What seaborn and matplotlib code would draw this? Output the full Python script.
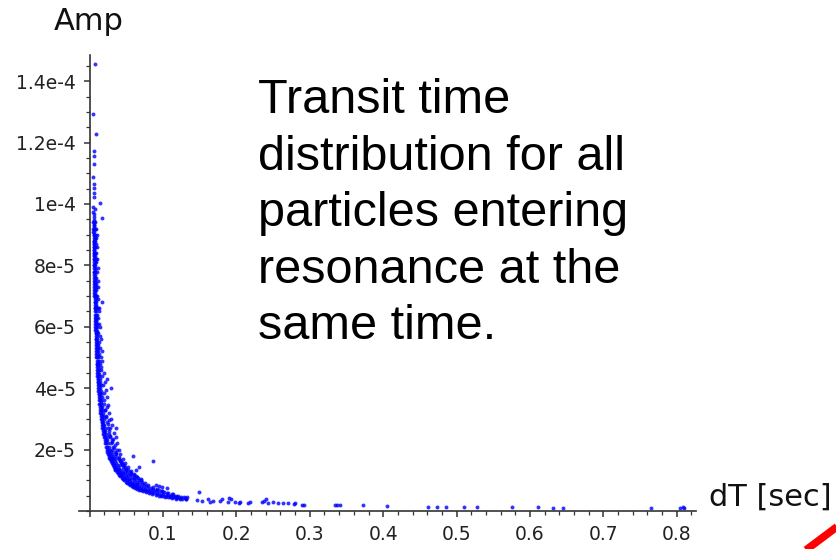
import matplotlib
matplotlib.use("Agg")
import matplotlib.pyplot as plt
import pandas as pd
import seaborn as sns
from matplotlib.lines import Line2D
from matplotlib.ticker import FixedLocator, MultipleLocator

# ---------------------------------------------------------------------------
# Transit time (dT, seconds) vs. amplitude of particles entering resonance.
# Amplitudes below are written in units of 1e-5.
# ---------------------------------------------------------------------------

# sparse points at the top of the column
top_points = [
    (0.0074, 14.56), (0.0050, 12.93), (0.0087, 12.28), (0.0064, 11.74),
    (0.0060, 11.56), (0.0058, 11.30), (0.0050, 10.89), (0.0059, 10.64),
    (0.0062, 10.52), (0.0055, 10.36), (0.0062, 10.24), (0.0142, 10.04),
    (0.0048, 9.90), (0.0068, 9.85), (0.0052, 9.75), (0.0060, 9.67),
    (0.0065, 9.59), (0.0173, 9.55), (0.0055, 9.48),
]

# dense, nearly vertical column: (amplitude, [dT values])
column_rows = [
    (9.4, [0.0050, 0.0061, 0.0074]), (9.3, [0.0055, 0.0066]),
    (9.2, [0.0052, 0.0059, 0.0071, 0.0086]), (9.1, [0.0053, 0.0064]),
    (9.0, [0.0054, 0.0060, 0.0077]), (8.9, [0.0055, 0.0068, 0.0083]),
    (8.8, [0.0054, 0.0062, 0.0072]), (8.7, [0.0056, 0.0065, 0.0090]),
    (8.6, [0.0055, 0.0060, 0.0070, 0.0079]), (8.5, [0.0057, 0.0066]),
    (8.4, [0.0056, 0.0063, 0.0075, 0.0093]), (8.3, [0.0058, 0.0069]),
    (8.2, [0.0057, 0.0064, 0.0081]), (8.1, [0.0059, 0.0070, 0.0086]),
    (8.0, [0.0059, 0.0066, 0.0076]), (7.9, [0.0060, 0.0072]),
    (7.8, [0.0061, 0.0067, 0.0080, 0.0098]), (7.7, [0.0062, 0.0073]),
    (7.6, [0.0062, 0.0069, 0.0084]), (7.5, [0.0063, 0.0075, 0.0118]),
    (7.4, [0.0064, 0.0070, 0.0081]), (7.3, [0.0065, 0.0077, 0.0092]),
    (7.2, [0.0066, 0.0072, 0.0086]), (7.1, [0.0067, 0.0079]),
    (7.0, [0.0067, 0.0074, 0.0090, 0.0104]), (6.9, [0.0069, 0.0081]),
    (6.8, [0.0069, 0.0076, 0.0094, 0.0165]), (6.7, [0.0071, 0.0083]),
    (6.6, [0.0072, 0.0078, 0.0089, 0.0108]), (6.5, [0.0073, 0.0085]),
    (6.4, [0.0074, 0.0081, 0.0097]), (6.3, [0.0075, 0.0087, 0.0112]),
    (6.2, [0.0076, 0.0083, 0.0093]), (6.1, [0.0078, 0.0090, 0.0104]),
    (6.0, [0.0079, 0.0086, 0.0098]), (5.9, [0.0080, 0.0092]),
    (5.8, [0.0082, 0.0089, 0.0101, 0.0120]), (5.7, [0.0083, 0.0095]),
    (5.6, [0.0084, 0.0092, 0.0107]), (5.5, [0.0086, 0.0098, 0.0125]),
    (5.4, [0.0087, 0.0095, 0.0110]), (5.3, [0.0089, 0.0101, 0.0117]),
    (5.2, [0.0091, 0.0098, 0.0112]), (5.1, [0.0093, 0.0104, 0.0133]),
    (5.0, [0.0094, 0.0102, 0.0118]), (4.9, [0.0096, 0.0108, 0.0124]),
    (4.8, [0.0098, 0.0106, 0.0120, 0.0142]), (4.7, [0.0100, 0.0112]),
    (4.6, [0.0102, 0.0110, 0.0126, 0.0150]), (4.5, [0.0105, 0.0116]),
    (4.4, [0.0107, 0.0115, 0.0132]), (4.3, [0.0110, 0.0121, 0.0145, 0.0231]),
    (4.2, [0.0112, 0.0120, 0.0138]), (4.1, [0.0115, 0.0127, 0.0152]),
    (4.0, [0.0118, 0.0126, 0.0144, 0.0287]), (3.9, [0.0121, 0.0132, 0.0160]),
    (3.8, [0.0124, 0.0135, 0.0150]), (3.7, [0.0127, 0.0140, 0.0168]),
    (3.6, [0.0131, 0.0144, 0.0158]),
]

# the bend of the distribution: (amplitude, [dT values])
knee_rows = [
    (3.5, [0.0134, 0.0146, 0.0162, 0.0190]), (3.4, [0.0139, 0.0150, 0.0172]),
    (3.3, [0.0143, 0.0155, 0.0168, 0.0205]), (3.2, [0.0148, 0.0160, 0.0180]),
    (3.1, [0.0152, 0.0165, 0.0178, 0.0220]), (3.0, [0.0157, 0.0170, 0.0192]),
    (2.9, [0.0163, 0.0175, 0.0188, 0.0235]), (2.8, [0.0168, 0.0182, 0.0200]),
    (2.7, [0.0174, 0.0186, 0.0205, 0.0250, 0.0356]),
    (2.6, [0.0181, 0.0195, 0.0215]),
    (2.5, [0.0188, 0.0200, 0.0222, 0.0265]),
    (2.4, [0.0196, 0.0210, 0.0232, 0.0280]),
    (2.3, [0.0205, 0.0218, 0.0240, 0.0300]),
    (2.2, [0.0214, 0.0228, 0.0252, 0.0290]),
    (2.1, [0.0224, 0.0240, 0.0262, 0.0320]),
    (2.0, [0.0235, 0.0250, 0.0275, 0.0305]),
    (1.93, [0.0244, 0.0262, 0.0290, 0.0340]),
    (1.86, [0.0253, 0.0270, 0.0300, 0.0360]),
    (1.80, [0.0261, 0.0280, 0.0310, 0.0350, 0.0587]),
    (1.74, [0.0270, 0.0290, 0.0322, 0.0380]),
    (1.68, [0.0280, 0.0300, 0.0335, 0.0400]),
    (1.62, [0.0290, 0.0312, 0.0348, 0.0420, 0.0860]),
    (1.56, [0.0301, 0.0325, 0.0362, 0.0440]),
    (1.50, [0.0313, 0.0337, 0.0375, 0.0410, 0.0465]),
    (1.44, [0.0326, 0.0350, 0.0390, 0.0480, 0.0680]),
    (1.38, [0.0341, 0.0366, 0.0405, 0.0450, 0.0500]),
    (1.33, [0.0353, 0.0380, 0.0420, 0.0520, 0.0630]),
    (1.28, [0.0367, 0.0395, 0.0438, 0.0480, 0.0545]),
    (1.23, [0.0382, 0.0410, 0.0455, 0.0510, 0.0570]),
    (1.18, [0.0398, 0.0428, 0.0472, 0.0530, 0.0600]),
    (1.13, [0.0416, 0.0447, 0.0492, 0.0550, 0.0630]),
    (1.08, [0.0435, 0.0468, 0.0515, 0.0580, 0.0660]),
    (1.04, [0.0452, 0.0485, 0.0535, 0.0600]),
    (1.00, [0.0470, 0.0505, 0.0555, 0.0625, 0.0700]),
    (0.96, [0.0490, 0.0525, 0.0578, 0.0650]),
    (0.92, [0.0511, 0.0548, 0.0600, 0.0680, 0.0760]),
    (0.88, [0.0534, 0.0572, 0.0628, 0.0710]),
    (0.85, [0.0553, 0.0592, 0.0650, 0.0740, 0.0900]),
    (0.82, [0.0573, 0.0614, 0.0675, 0.0770, 0.0950]),
    (0.79, [0.0595, 0.0637, 0.0700, 0.0800, 0.0980]),
    (0.76, [0.0618, 0.0662, 0.0728, 0.0830, 0.1060]),
    (0.73, [0.0644, 0.0690, 0.0758, 0.0860]),
    (0.70, [0.0671, 0.0718, 0.0790, 0.0900]),
    (0.67, [0.0701, 0.0750, 0.0825, 0.0940]),
    (0.64, [0.0734, 0.0786, 0.0865, 0.0980]),
    (0.61, [0.0770, 0.0825, 0.0905, 0.1020]),
    (0.58, [0.0810, 0.0868, 0.0950, 0.1070]),
    (0.55, [0.0855, 0.0915, 0.1000, 0.1120]),
    (0.52, [0.0904, 0.0968, 0.1060]),
    (0.50, [0.0940, 0.1005, 0.1100, 0.1180]),
    (0.48, [0.0979, 0.1045, 0.1140]),
    (0.46, [0.1022, 0.1090, 0.1190, 0.1330]),
    (0.44, [0.1068, 0.1140, 0.1240]),
    (0.42, [0.1119, 0.1195, 0.1300]),
    (0.40, [0.1175, 0.1255]),
    (0.38, [0.1237, 0.1320]),
]

# scattered points on the outer side of the band, plus fill between rows
spread_points = [
    (0.0095, 9.00), (0.0100, 8.60), (0.0105, 8.20), (0.0110, 7.90),
    (0.0112, 7.30), (0.0120, 6.90), (0.0125, 6.50), (0.0130, 6.10),
    (0.0138, 5.70), (0.0145, 5.30), (0.0152, 5.00), (0.0160, 4.70),
    (0.0170, 4.40), (0.0180, 4.10), (0.0190, 3.85), (0.0200, 3.60),
    (0.0215, 3.30), (0.0230, 3.05), (0.0245, 2.85), (0.0265, 2.60),
    (0.0285, 2.45), (0.0310, 2.25), (0.0330, 2.05), (0.0365, 1.90),
    (0.0395, 1.75), (0.0430, 1.60), (0.0460, 1.45), (0.0500, 1.35),
    (0.0560, 1.20), (0.0610, 1.10), (0.0680, 1.00), (0.0720, 0.93),
    (0.0790, 0.86), (0.0860, 0.78), (0.0920, 0.72), (0.0990, 0.66),
    (0.1060, 0.60), (0.1130, 0.54), (0.1200, 0.50), (0.1280, 0.46),
    (0.0058, 9.25), (0.0063, 8.75), (0.0067, 8.35), (0.0071, 7.85),
    (0.0075, 7.45), (0.0080, 7.05), (0.0084, 6.65), (0.0090, 6.25),
    (0.0095, 5.85), (0.0102, 5.45), (0.0108, 5.05), (0.0115, 4.75),
    (0.0122, 4.45), (0.0130, 4.15), (0.0139, 3.85), (0.0150, 3.55),
    (0.0130, 6.60), (0.0140, 6.00), (0.0150, 5.60), (0.0165, 5.20),
    (0.0175, 4.90), (0.0195, 4.50), (0.0210, 4.20), (0.0225, 3.95),
    (0.0240, 3.70), (0.0255, 3.45), (0.0235, 3.40), (0.0270, 3.20),
    (0.0290, 3.00), (0.0260, 2.95), (0.0310, 2.80), (0.0285, 2.70),
    (0.0330, 2.55), (0.0355, 2.40), (0.0320, 2.35), (0.0380, 2.20),
    (0.0350, 2.15), (0.0400, 2.00), (0.0375, 1.98), (0.0420, 1.85),
    (0.0450, 1.70), (0.0410, 1.66), (0.0480, 1.55), (0.0440, 1.52),
    (0.0520, 1.42), (0.0560, 1.30), (0.0600, 1.22), (0.0650, 1.12),
    (0.0700, 1.05),
]

# long tail along the dT axis
tail_points = [
    (0.1095, 0.49), (0.116, 0.45), (0.123, 0.41), (0.132, 0.38),
    (0.149, 0.62), (0.146, 0.36), (0.153, 0.34), (0.162, 0.38),
    (0.164, 0.30), (0.168, 0.33), (0.178, 0.34), (0.180, 0.39),
    (0.190, 0.43), (0.192, 0.39), (0.189, 0.29), (0.198, 0.28),
    (0.203, 0.25), (0.205, 0.30), (0.216, 0.27), (0.218, 0.30),
    (0.235, 0.30), (0.237, 0.31), (0.241, 0.38), (0.243, 0.27),
    (0.250, 0.28), (0.257, 0.26), (0.264, 0.27), (0.270, 0.25),
    (0.278, 0.23), (0.280, 0.25), (0.290, 0.20), (0.292, 0.21),
    (0.334, 0.20), (0.337, 0.19), (0.341, 0.18), (0.373, 0.18),
    (0.405, 0.16), (0.461, 0.14), (0.473, 0.14), (0.486, 0.13),
    (0.510, 0.13), (0.528, 0.12), (0.576, 0.12), (0.611, 0.12),
    (0.632, 0.11), (0.645, 0.11), (0.765, 0.10), (0.805, 0.10),
    (0.808, 0.12), (0.810, 0.09),
]

dt_ticks = [0.1, 0.2, 0.3, 0.4, 0.5, 0.6, 0.7, 0.8]
dt_tick_labels = ["0.1", "0.2", "0.3", "0.4", "0.5", "0.6", "0.7", "0.8"]
amp_ticks = [2e-5, 4e-5, 6e-5, 8e-5, 1e-4, 1.2e-4, 1.4e-4]
amp_tick_labels = ["2e-5", "4e-5", "6e-5", "8e-5", "1e-4", "1.2e-4", "1.4e-4"]

note_text = ("Transit time\ndistribution for all\nparticles entering\n"
             "resonance at the\nsame time.")

# ---------------------------------------------------------------------------
dt_vals, amp_vals = [], []
for d, a in top_points + spread_points + tail_points:
    dt_vals.append(d)
    amp_vals.append(a * 1e-5)
for a, ds in column_rows + knee_rows:
    for d in ds:
        dt_vals.append(d)
        amp_vals.append(a * 1e-5)
df = pd.DataFrame({"dT": dt_vals, "Amp": amp_vals})

sns.set_theme(style="white")
plt.rcParams["font.family"] = ["DejaVu Sans"]

fig = plt.figure(figsize=(8.37, 5.49), dpi=100)
ax = fig.add_axes([0.09474, 0.06922, 0.73668, 0.83042])

sns.scatterplot(data=df, x="dT", y="Amp", ax=ax, s=8, color="#0000ff",
                linewidth=0, alpha=0.8, legend=False)

ax.set_xlim(-0.014, 0.826)
ax.set_ylim(0, 1.485e-4)
ax.set_xlabel("")
ax.set_ylabel("")

axis_color = "#333333"
for side in ("top", "right"):
    ax.spines[side].set_visible(False)
for side in ("left", "bottom"):
    ax.spines[side].set_position(("data", 0))
    ax.spines[side].set_color(axis_color)
    ax.spines[side].set_linewidth(1.2)

ax.xaxis.set_major_locator(FixedLocator([0.0] + dt_ticks))
ax.set_xticklabels([""] + dt_tick_labels)
ax.xaxis.set_minor_locator(MultipleLocator(0.02))
ax.yaxis.set_major_locator(FixedLocator(amp_ticks))
ax.set_yticklabels(amp_tick_labels)
ax.yaxis.set_minor_locator(MultipleLocator(5e-6))

ax.tick_params(which="both", direction="out", color=axis_color,
               labelcolor="#222222", bottom=True, left=True)
ax.tick_params(which="major", length=4.5, width=1.1, labelsize=13.5)
ax.tick_params(which="minor", length=2.6, width=0.9)
ax.tick_params(axis="y", which="major", pad=5.5)
ax.tick_params(axis="x", which="major", pad=5.5)
ax.patch.set_alpha(0)

fig.text(89 / 837, 1 - 22 / 549, "Amp", fontsize=22, ha="center",
         va="center", color="#111111")
fig.text(709 / 837, 1 - 497 / 549, "dT [sec]", fontsize=22, ha="left",
         va="center", color="#111111")

fig.text(258 / 837, 1 - 78 / 549, note_text, fontsize=35,
         family=["Liberation Sans", "DejaVu Sans"], ha="left", va="top",
         linespacing=1.33, color="black")

# red stroke in the lower right corner
fig.add_artist(Line2D([802 / 837, 842 / 837], [-4 / 549, 26 / 549],
                      transform=fig.transFigure, color="#ff0000",
                      linewidth=5.5, solid_capstyle="butt"))

fig.savefig("out.png", dpi=100, facecolor="white")
